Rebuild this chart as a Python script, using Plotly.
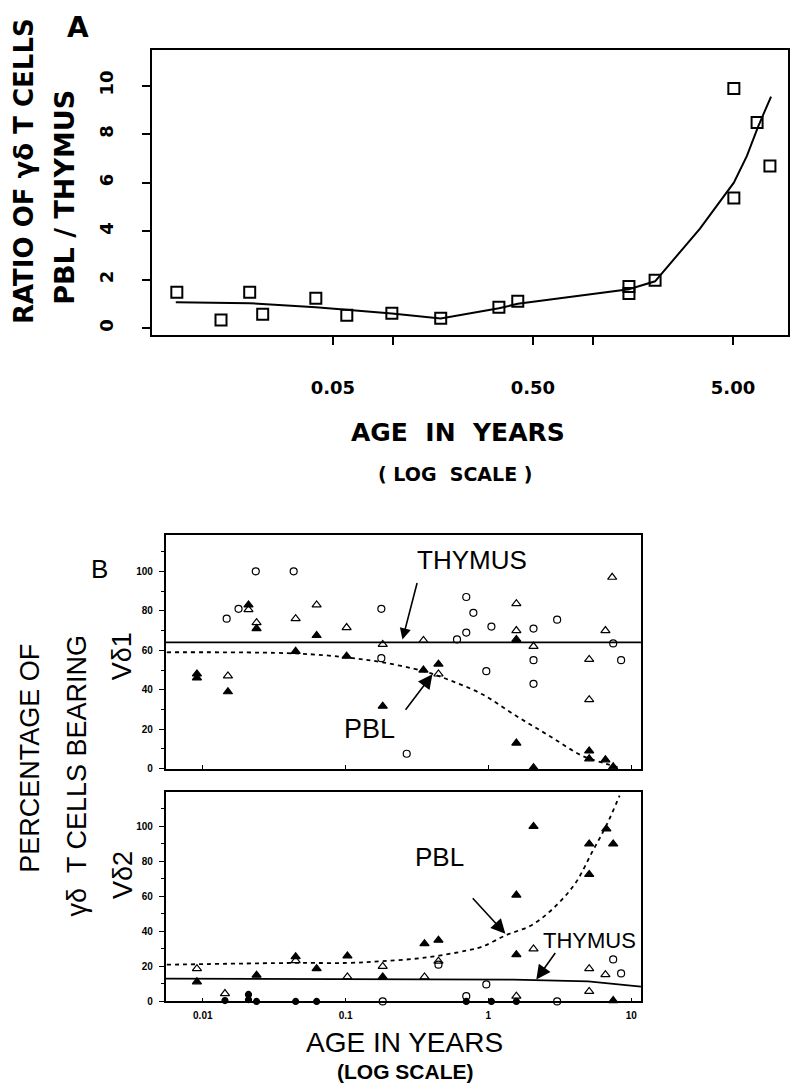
import plotly.graph_objects as go

W, H = 790, 1086
def px(x): return x / W
def py(y): return 1 - y / H

# ---------------- Panel A data ----------------
a_age = [0.0083, 0.0138, 0.0192, 0.0223, 0.0411, 0.0587, 0.0986, 0.173, 0.338, 0.42,
         1.51, 1.51, 2.04, 5.05, 5.05, 6.6, 7.65]
a_ratio = [1.48, 0.33, 1.48, 0.57, 1.23, 0.53, 0.61, 0.41, 0.86, 1.11,
           1.72, 1.43, 1.97, 9.88, 5.37, 8.48, 6.68]
a_fit_age = [0.0082, 0.0192, 0.0411, 0.0986, 0.173, 0.338, 0.42, 1.51, 2.04, 3.42, 5.05, 5.87, 6.67, 7.75]
a_fit_ratio = [1.07, 1.03, 0.86, 0.60, 0.40, 0.82, 1.00, 1.60, 1.93, 4.10, 6.00, 7.10, 8.30, 9.55]
a_tickvals = [0.05, 0.1, 0.5, 1, 5]
a_ticktext = ["0.05", "", "0.50", "", "5.00"]
a_ytickvals = [0, 2, 4, 6, 8, 10]

# ---------------- Panel B data: Vδ1 ----------------
v1_ftri_x = [0.0091, 0.0091, 0.0150, 0.0209, 0.0238, 0.0447, 0.0627, 0.1017, 0.182, 0.351, 0.447,
             1.57, 1.57, 2.07, 5.08, 5.08, 6.6, 7.48]
v1_ftri_y = [48, 46, 39, 83, 71, 59.5, 67.5, 57, 31.7, 50, 53,
             65.5, 13, 0.5, 9, 5, 4.5, 1]
v1_otri_x = [0.0150, 0.0209, 0.0238, 0.0447, 0.0627, 0.1017, 0.182, 0.351, 0.447,
             1.57, 1.57, 2.07, 5.08, 5.08, 6.6, 7.36]
v1_otri_y = [47, 80.6, 74, 76, 83, 71.5, 63, 65, 48,
             83.6, 70, 62, 55.4, 35, 70, 97]
v1_ocir_x = [0.0147, 0.0178, 0.0235, 0.0433, 0.178, 0.178, 0.268, 0.603, 0.70, 0.70, 0.785,
             0.967, 1.05, 2.07, 2.07, 2.07, 3.03, 7.48, 8.5]
v1_ocir_y = [76, 81, 100, 100, 81, 56, 7.6, 65.5, 87, 69, 79,
             49.4, 72, 71, 55, 43, 75.5, 63.5, 55]
v1_thy_x = [0.0055, 11.7]
v1_thy_y = [64, 64]
v1_pbl_x = [0.0056, 0.0447, 0.1017, 0.178, 0.351, 0.53, 0.906, 1.57, 2.68, 4.56, 6.7, 8.3]
v1_pbl_y = [59, 58.4, 56.4, 54, 49.4, 45, 37.7, 26.7, 16.6, 6.5, 2.5, 0.5]

# ---------------- Panel B data: Vδ2 ----------------
v2_ftri_x = [0.0091, 0.0238, 0.0447, 0.0627, 0.103, 0.182, 0.357, 0.447, 1.57, 1.57,
             2.07, 5.08, 5.08, 6.7, 7.48, 7.48]
v2_ftri_y = [11.2, 15, 25.6, 18.7, 26, 14, 33, 35, 60.8, 26.7,
             100, 90, 72.6, 98.6, 90, 0.5]
v2_otri_x = [0.0091, 0.0143, 0.0447, 0.103, 0.182, 0.357, 0.447, 1.57, 2.07, 5.08, 5.08, 6.6]
v2_otri_y = [18.7, 4.5, 23.3, 14, 20, 14, 23, 3, 30, 18.7, 5.7, 15.3]
v2_ocir_x = [0.182, 0.447, 0.70, 0.967, 3.03, 7.48, 8.5]
v2_ocir_y = [0, 21, 3, 9.7, 0, 24, 16]
v2_fcir_x = [0.0143, 0.0209, 0.0209, 0.0238, 0.0447, 0.0627, 0.70, 1.05, 1.57]
v2_fcir_y = [0.5, 4, 1, 0, 0, 0, 0, 0, 0]
v2_thy_x = [0.0055, 1.5, 5.0, 11.7]
v2_thy_y = [13, 12.5, 11.5, 8.5]
v2_pbl_x = [0.0056, 0.0447, 0.103, 0.182, 0.357, 0.70, 0.906, 1.34, 2.02, 3.0, 4.1, 5.3, 6.7, 8.3]
v2_pbl_y = [21, 22, 22, 23, 25, 29, 31.3, 38, 43.7, 55, 68, 85, 100.6, 117.6]

b_xtickvals = [0.01, 0.1, 1, 10]
b_xticktext = ["0.01", "0.1", "1", "10"]
b_ytickvals = [0, 20, 40, 60, 80, 100]

K = "black"
fig = go.Figure()

# Panel A
fig.add_trace(go.Scatter(x=a_fit_age, y=a_fit_ratio, mode="lines", line=dict(color=K, width=2),
                         xaxis="x", yaxis="y", showlegend=False))
fig.add_trace(go.Scatter(x=a_age, y=a_ratio, mode="markers",
                         marker=dict(symbol="square-open", size=11, color=K, line=dict(width=2, color=K)),
                         xaxis="x", yaxis="y", showlegend=False))

def add_b(xa, ya, thy_x, thy_y, pbl_x, pbl_y, series):
    fig.add_trace(go.Scatter(x=thy_x, y=thy_y, mode="lines", line=dict(color=K, width=1.8),
                             xaxis=xa, yaxis=ya, showlegend=False))
    fig.add_trace(go.Scatter(x=pbl_x, y=pbl_y, mode="lines", line=dict(color=K, width=1.8, dash="4px,4px"),
                             line_shape="spline", xaxis=xa, yaxis=ya, showlegend=False))
    for (sx, sy, sym, size) in series:
        fig.add_trace(go.Scatter(x=sx, y=sy, mode="markers", cliponaxis=False,
                                 marker=dict(symbol=sym, size=size, color=K, line=dict(width=1.2, color=K)),
                                 xaxis=xa, yaxis=ya, showlegend=False))

add_b("x2", "y2", v1_thy_x, v1_thy_y, v1_pbl_x, v1_pbl_y, [
    (v1_ocir_x, v1_ocir_y, "circle-open", 7),
    (v1_otri_x, v1_otri_y, "triangle-up-open", 8),
    (v1_ftri_x, v1_ftri_y, "triangle-up", 8),
])
add_b("x3", "y3", v2_thy_x, v2_thy_y, v2_pbl_x, v2_pbl_y, [
    (v2_ocir_x, v2_ocir_y, "circle-open", 7),
    (v2_otri_x, v2_otri_y, "triangle-up-open", 8),
    (v2_ftri_x, v2_ftri_y, "triangle-up", 8),
    (v2_fcir_x, v2_fcir_y, "circle", 6),
])

fa = dict(family="DejaVu Sans", size=18, color=K, weight="bold")
fb = dict(family="Liberation Sans", size=10, color=K, weight="bold")
ax_common = dict(showline=True, linecolor=K, linewidth=1.8, mirror=True, showgrid=False, zeroline=False)

fig.update_layout(
    width=W, height=H, margin=dict(l=0, r=0, t=0, b=0),
    paper_bgcolor="white", plot_bgcolor="white",
    xaxis=dict(**ax_common, type="log", domain=[px(152), px(789)], range=[-2.206, 0.974],
               anchor="y", tickvals=a_tickvals, ticktext=a_ticktext, ticks="outside", ticklen=8,
               tickwidth=1.8, tickcolor=K, tickfont=fa, ticklabelstandoff=27),
    yaxis=dict(**ax_common, domain=[py(337), py(50)], range=[-0.29, 11.48], anchor="x",
               tickvals=a_ytickvals, ticks="outside", ticklen=8, tickwidth=1.8, tickcolor=K,
               tickfont=fa, tickangle=-90, ticklabelstandoff=22),
    xaxis2=dict(**ax_common, type="log", domain=[px(166), px(642)], range=[-2.259, 1.070],
                anchor="y2", tickvals=b_xtickvals, showticklabels=False, ticks="inside", ticklen=4,
                tickcolor=K, tickwidth=1.2),
    yaxis2=dict(**ax_common, domain=[py(773), py(538)], range=[0, 118.4], anchor="x2",
                tickvals=b_ytickvals, ticks="outside", ticklen=5, tickcolor=K, tickwidth=1.2,
                tickfont=fb, ticklabelstandoff=4,
                minor=dict(tickvals=[10, 30, 50, 70, 90, 110], ticks="outside", ticklen=3, tickcolor=K)),
    xaxis3=dict(**ax_common, type="log", domain=[px(166), px(642)], range=[-2.259, 1.070],
                anchor="y3", tickvals=b_xtickvals, ticktext=b_xticktext, ticks="inside", ticklen=4,
                tickcolor=K, tickwidth=1.2, tickfont=fb, ticklabelstandoff=4),
    yaxis3=dict(**ax_common, domain=[py(1007), py(796)], range=[0, 119.9], anchor="x3",
                tickvals=b_ytickvals, ticks="outside", ticklen=5, tickcolor=K, tickwidth=1.2,
                tickfont=fb, ticklabelstandoff=4,
                minor=dict(tickvals=[10, 30, 50, 70, 90, 110], ticks="outside", ticklen=3, tickcolor=K)),
)

def txt(x, y, s, size, family="DejaVu Sans", bold=True, angle=0):
    fig.add_annotation(x=px(x), y=py(y), xref="paper", yref="paper", text=s, showarrow=False,
                       textangle=angle, xanchor="center", yanchor="middle",
                       font=dict(family=family, size=size, color=K, weight="bold" if bold else "normal"))

# Panel A labels
txt(78, 28, "A", 28)
txt(24, 172, "RATIO OF γδ T CELLS", 26, angle=-90)
txt(65, 198, "PBL / THYMUS", 27, angle=-90)
txt(459, 435, "AGE  IN  YEARS", 25)
txt(456, 477, "( LOG  SCALE )", 19)

# Panel B labels
LS = "Liberation Sans"
txt(100, 572, "B", 26, family=LS, bold=False)
txt(30, 762, "PERCENTAGE OF", 27, family=LS, bold=False, angle=-90)
txt(77, 780, "γδ  T CELLS BEARING", 27, family=LS, bold=False, angle=-90)
txt(123, 660, "Vδ1", 27, family=LS, bold=False, angle=-90)
txt(123, 880, "Vδ2", 27, family=LS, bold=False, angle=-90)
txt(473, 563, "THYMUS", 26, family=LS, bold=False)
txt(370, 733, "PBL", 27, family=LS, bold=False)
txt(440, 862, "PBL", 26, family=LS, bold=False)
txt(590, 946, "THYMUS", 22, family=LS, bold=False)
txt(405, 1048, "AGE IN YEARS", 28, family=LS, bold=False)
txt(406, 1077, "(LOG SCALE)", 21, family=LS, bold=True)

def arrow(tx, ty, sx, sy, size=1.6):
    fig.add_annotation(x=px(tx), y=py(ty), xref="paper", yref="paper", text="", showarrow=True,
                       ax=sx - tx, ay=sy - ty, arrowhead=2, arrowsize=size, arrowwidth=1.6,
                       arrowcolor=K, standoff=0)

arrow(403, 643, 418, 585, 1.4)
arrow(433, 678, 405, 715, 1.8)
arrow(506, 939, 472, 902, 1.8)
arrow(537, 985, 557, 957, 1.8)

fig.write_html("out.html", config={"displayModeBar": False},
               post_script="document.body.style.margin='0';document.body.style.overflow='hidden';")
